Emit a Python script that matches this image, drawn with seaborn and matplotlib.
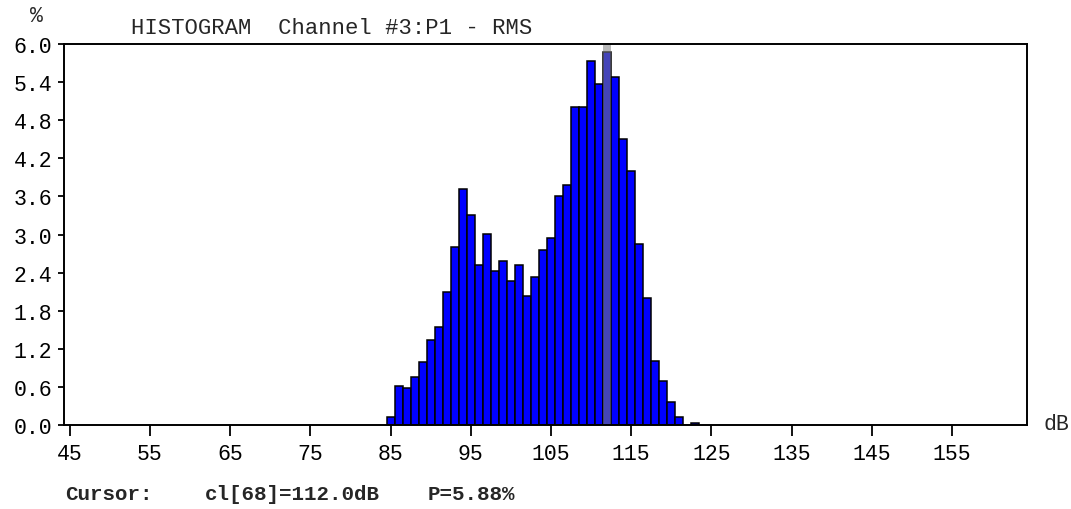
import matplotlib
matplotlib.use("Agg")
import matplotlib.pyplot as plt
import seaborn as sns
import numpy as np
import pandas as pd

# ---- data ----
db_bins = [85, 86, 87, 88, 89, 90, 91, 92, 93, 94, 95, 96, 97, 98, 99, 100,
           101, 102, 103, 104, 105, 106, 107, 108, 109, 110, 111, 112, 113,
           114, 115, 116, 117, 118, 119, 120, 121, 122, 123]
percent = [0.12, 0.62, 0.58, 0.75, 0.99, 1.34, 1.54, 2.10, 2.81, 3.72, 3.31,
           2.52, 3.01, 2.42, 2.59, 2.26, 2.52, 2.03, 2.33, 2.75, 2.94, 3.61,
           3.78, 5.01, 5.01, 5.74, 5.37, 5.88, 5.48, 4.50, 4.00, 2.85, 2.00,
           1.01, 0.69, 0.36, 0.13, 0.0, 0.03]
x_ticks = [45, 55, 65, 75, 85, 95, 105, 115, 125, 135, 145, 155]
y_ticks = [0.0, 0.6, 1.2, 1.8, 2.4, 3.0, 3.6, 4.2, 4.8, 5.4, 6.0]
cursor_db = 112.0
cursor_index = 68
cursor_p = 5.88
title_text = "HISTOGRAM  Channel #3:P1 - RMS"

df = pd.DataFrame({"dB": db_bins, "pct": percent})

sns.set_style("ticks")
FONT = ["Liberation Mono", "DejaVu Sans Mono"]
plt.rcParams["font.family"] = FONT

fig = plt.figure(figsize=(10.71, 5.10), dpi=100)
ax = fig.add_axes([64 / 1071, 84 / 510, (1026.7 - 64) / 1071, (426 - 45) / 510])

sns.histplot(data=df, x="dB", weights="pct", discrete=True, ax=ax,
             color="#0000FF", edgecolor="black", linewidth=1.1, alpha=1.0,
             zorder=2)

# cursor band
ax.axvspan(cursor_db - 0.5, cursor_db + 0.5, color="#7f7f7f", alpha=0.55,
           lw=0, zorder=2.2)

ax.set_xlim(44.3, 164.3)
ax.set_ylim(0, 6.0)
ax.set_xticks(x_ticks)
ax.set_xticklabels([str(v) for v in x_ticks])
ax.set_yticks(y_ticks)
ax.set_yticklabels([f"{v:.1f}" for v in y_ticks])
ax.set_xlabel("")
ax.set_ylabel("")

for s in ax.spines.values():
    s.set_visible(True)
    s.set_color("black")
    s.set_linewidth(1.4)
    s.set_zorder(3)

ax.tick_params(axis="x", direction="out", length=8, width=1.3, pad=5,
               labelsize=15.5, colors="black")
ax.tick_params(axis="y", direction="out", length=4.5, width=1.3, pad=4,
               labelsize=15.5, colors="black")
for lab in ax.get_xticklabels() + ax.get_yticklabels():
    lab.set_family(FONT)

# texts
fig.text(36 / 1071, 1 - 17 / 510, "%", ha="center", va="center",
         fontsize=15.5, family=FONT)
fig.text(131 / 1071, 1 - 29 / 510, title_text, ha="left", va="center",
         fontsize=16, family=FONT)
fig.text(1056 / 1071, 1 - 424 / 510, "dB", ha="center", va="center",
         fontsize=15.5, family=FONT)

fig.text(65 / 1071, 1 - 495 / 510, "Cursor:", ha="left", va="center",
         fontsize=15, fontweight="bold", family=FONT)
fig.text(205 / 1071, 1 - 495 / 510, f"cl[{cursor_index}]={cursor_db:.1f}dB",
         ha="left", va="center", fontsize=15, fontweight="bold", family=FONT)
fig.text(428 / 1071, 1 - 495 / 510, f"P={cursor_p:.2f}%", ha="left",
         va="center", fontsize=15, fontweight="bold", family=FONT)

fig.savefig("out.png", dpi=100, facecolor="white")
